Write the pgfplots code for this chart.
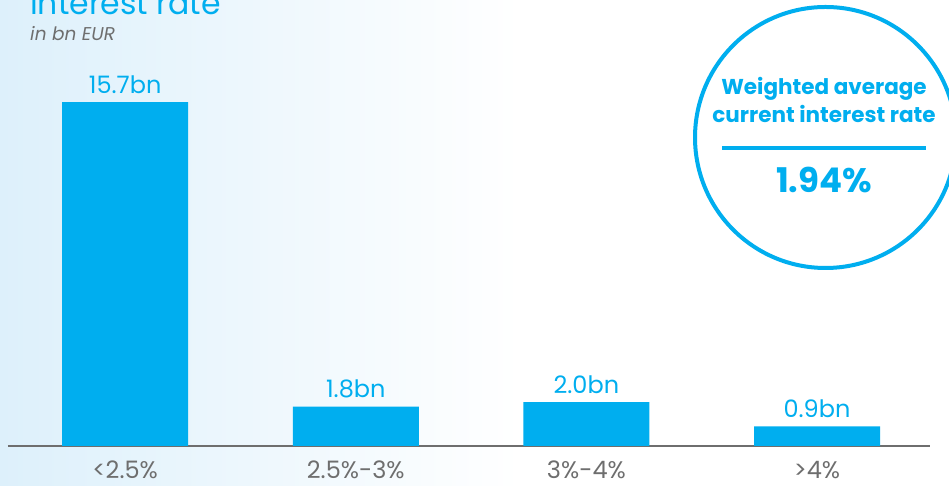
\documentclass[border=0pt]{standalone}
\usepackage{fontspec}
\setmainfont{Poppins}
\usepackage{pgfplots}
\pgfplotsset{compat=1.18}
\definecolor{cy}{HTML}{00AEEF}
\definecolor{gr}{HTML}{6E6E6E}
\definecolor{bg}{HTML}{DDF0FB}
\begin{document}
\begin{tikzpicture}[x=1pt,y=1pt]
\useasboundingbox (0,0) rectangle (949,486);
\clip (0,0) rectangle (949,486);
\fill[white] (0,0) rectangle (949,486);
\shade[left color=bg, right color=white] (0,0) rectangle (520,486);
\node[anchor=base west, text=cy, font=\fontsize{31.5}{38}\selectfont, inner sep=0pt] at (30,471) {Interest rate};
\node[anchor=base west, text=gr, font=\itshape\fontsize{18.5}{22}\selectfont, inner sep=0pt] at (30,445) {in bn EUR};
\begin{axis}[
  at={(8pt,40pt)}, anchor=south west,
  scale only axis, width=922pt, height=438pt,
  xmin=-0.508, xmax=3.49, ymin=0, ymax=20,
  axis x line*=bottom, hide y axis,
  axis line style={gr, line width=2pt},
  xtick={0,1,2,3},
  xticklabels={<2.5\%, 2.5\%-3\%, 3\%-4\%, >4\%},
  major tick length=0pt,
  xticklabel style={anchor=base, yshift=-33pt, text=gr, font=\fontsize{24}{28}\selectfont},
  ybar, bar width=126pt,
  /pgf/number format/assume math mode=true,
  nodes near coords={\pgfmathprintnumber[fixed,fixed zerofill,precision=1]{\pgfplotspointmeta}bn},
  nodes near coords style={anchor=base, yshift=9pt, text=cy, font=\fontsize{24}{28}\selectfont},
]
\addplot[fill=cy, draw=none] coordinates {(0,15.7) (1,1.8) (2,2.0) (3,0.9)};
\end{axis}
\fill[white] (825.5,348.5) circle (130.5);
\draw[cy, line width=4pt] (825.5,348.5) circle (130.5);
\node[anchor=base, text=cy, font=\bfseries\fontsize{21.5}{26}\selectfont, inner sep=0pt] at (824,391) {Weighted average};
\node[anchor=base, text=cy, font=\bfseries\fontsize{21.5}{26}\selectfont, inner sep=0pt] at (824,363) {current interest rate};
\draw[cy, line width=4pt] (722,338) -- (926,338);
\node[anchor=base, text=cy, font=\bfseries\fontsize{34}{40}\selectfont, inner sep=0pt] at (824,293) {1.94\%};
\end{tikzpicture}
\end{document}
